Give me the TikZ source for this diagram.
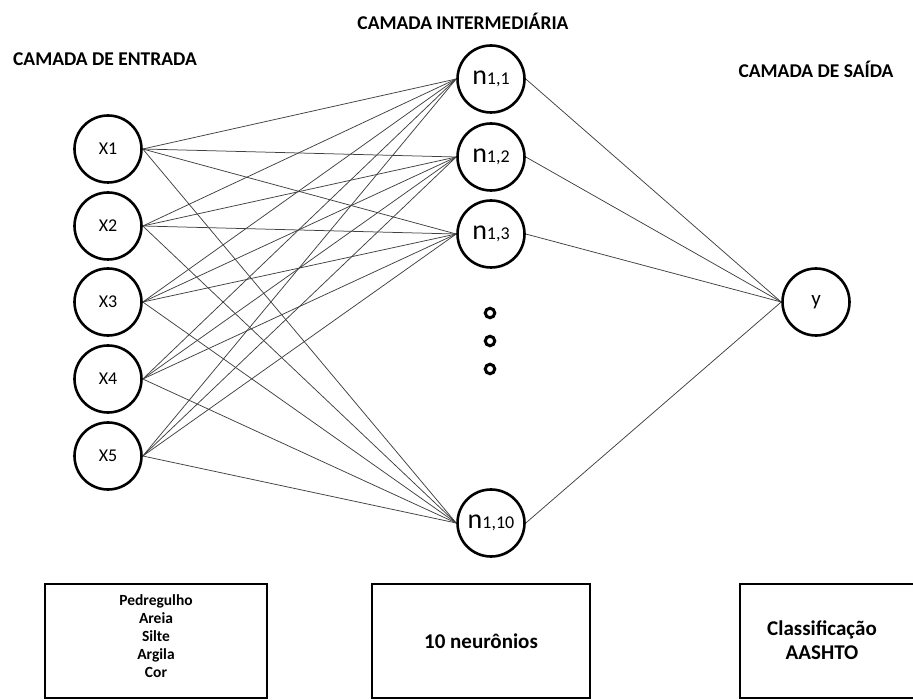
\documentclass[tikz,border=0pt]{standalone}
\usepackage{fontspec}
\setmainfont{Carlito}
\usetikzlibrary{positioning}

\begin{document}
\begin{tikzpicture}[
  x=1pt,y=-1pt,
  neuron/.style={draw,circle,line width=2.6pt,minimum size=67pt,inner sep=0pt,
                 font=\fontsize{18}{20}\selectfont},
  dotring/.style={draw,circle,line width=3pt,minimum size=9.5pt,inner sep=0pt},
  layertitle/.style={font=\fontsize{19.5}{22}\selectfont\bfseries},
  infobox/.style={draw,line width=2.6pt,minimum height=114pt,align=center,inner sep=0pt},
  link/.style={line width=0.75pt,black!75},
]
  \useasboundingbox (0,0) rectangle (913,700);
  \clip (0,0) rectangle (913,700);

  % layer titles
  \node[layertitle] (tin)  at (105,59) {CAMADA DE ENTRADA};
  \node[layertitle] (tmid) at (463,21) {CAMADA INTERMEDIÁRIA};
  \node[layertitle] (tout) at (816,69) {CAMADA DE SAÍDA};

  % input layer
  \node[neuron] (x1) at (108,149) {X1};
  \node[neuron] (x2) at (108,226) {X2};
  \node[neuron] (x3) at (108,302) {X3};
  \node[neuron] (x4) at (108,379) {X4};
  \node[neuron] (x5) at (108,456) {X5};

  % hidden layer
  \node[neuron] (n1)  at (491,79)  {{\fontsize{28}{28}\selectfont n}1,1};
  \node[neuron] (n2)  at (491,157) {{\fontsize{28}{28}\selectfont n}1,2};
  \node[neuron] (n3)  at (491,234) {{\fontsize{28}{28}\selectfont n}1,3};
  \node[neuron] (n10) at (491,523) {{\fontsize{28}{28}\selectfont n}1,10};

  % dots between hidden neurons
  \node[dotring] (d1) at (490,313) {};
  \node[dotring] (d2) at (490,341) {};
  \node[dotring] (d3) at (490,369) {};

  % output layer
  \node[neuron,font=\fontsize{21}{22}\selectfont] (y) at (816,302) {y};

  % connections
  \foreach \i in {1,...,5}
    \foreach \j in {1,2,3,10}
      \draw[link] (x\i.east) -- (n\j.west);
  \foreach \j in {1,2,3,10}
    \draw[link] (n\j.east) -- (y.west);

  % boxes below
  \node[infobox,minimum width=222pt] (inbox) at (156,641) {};
  \node[font=\fontsize{15.5}{18}\selectfont\bfseries,align=center]
    (intxt) at (156,636) {Pedregulho\\Areia\\Silte\\Argila\\Cor};
  \node[infobox,minimum width=218pt,font=\fontsize{21}{24}\selectfont\bfseries]
    (midbox) at (481,641) {10 neurônios};
  \node[infobox,minimum width=186pt] (outbox) at (833,641) {};
  \node[font=\fontsize{21}{24}\selectfont\bfseries,align=center]
    (outtxt) at (822,640) {Classificação\\AASHTO};
\end{tikzpicture}
\end{document}
